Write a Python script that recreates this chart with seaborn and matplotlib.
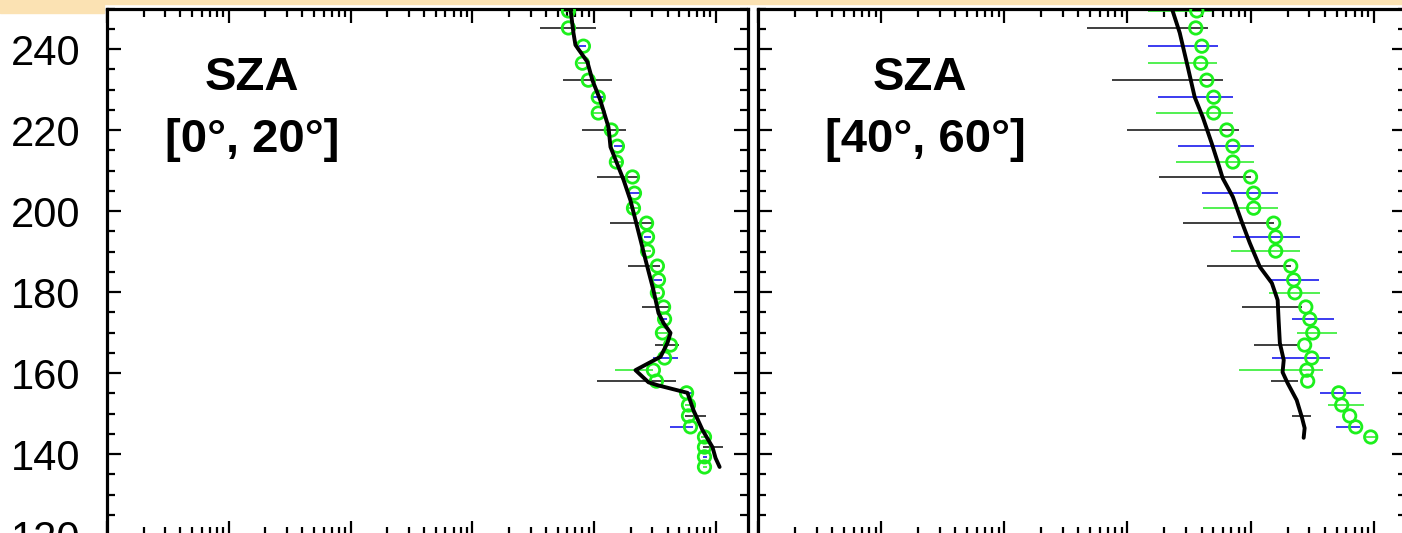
import numpy as np
import pandas as pd
import seaborn as sns
import matplotlib.pyplot as plt
from matplotlib.ticker import LogLocator, MultipleLocator, NullFormatter
from matplotlib.patches import Rectangle

# altitude grid (shared by both panels)
alt = [249.4, 245.2, 240.7, 236.5, 232.3, 228.1, 224.2, 220.0, 216.0, 212.1,
       208.4, 204.4, 200.7, 197.0, 193.6, 190.1, 186.4, 183.0, 179.8, 176.3,
       173.3, 169.9, 166.9, 163.7, 160.7, 158.0, 155.1, 152.1, 149.4, 146.7,
       144.2, 141.7, 139.3, 136.8]

# SZA [0, 20]
sza1_obs = [6.14, 6.14, 8.15, 8.0, 8.95, 10.8, 10.8, 13.8, 15.5, 15.2,
            20.6, 21.4, 21.0, 26.9, 27.4, 27.4, 33.0, 33.7, 33.0, 37.1,
            37.8, 36.3, 42.3, 37.8, 30.6, 32.4, 57.3, 59.4, 59.4, 61.7,
            80.4, 80.4, 80.4, 80.4]
sza1_lo = [5.48, 3.61, 7.56, 7.42, 5.58, 9.84, 9.84, 8.0, 14.4, 13.1,
           10.6, 19.8, 18.4, 13.6, 25.4, 24.0, 19.1, 30.6, 30.1, 24.9,
           35.0, 33.0, 31.8, 30.6, 14.9, 10.6, 56.1, 55.1, 56.1, 41.5,
           74.6, 78.9, 77.5, 77.5]
sza1_hi = [7.01, 10.4, 8.63, 8.63, 14.1, 12.1, 12.4, 18.4, 18.0, 17.4,
           23.5, 24.9, 24.0, 30.1, 29.0, 29.0, 35.0, 36.3, 35.0, 42.3,
           39.9, 39.9, 50.1, 48.3, 30.6, 47.3, 65.3, 64.1, 82.0, 64.1,
           86.7, 115, 83.6, 83.6]
sza1_line_alt = [250.1, 244.0, 241.0, 236.8, 232.3, 227.4, 220.7, 215.8, 207.7,
                 202.7, 197.8, 187.9, 180.5, 174.8, 172.3, 169.9, 167.4, 164.0,
                 160.7, 157.7, 157.0, 155.1, 150.8, 145.9, 141.7, 139.0, 136.8]
sza1_line_val = [6.37, 6.75, 7.01, 8.79, 9.66, 11.2, 13.1, 13.6, 17.4,
                 19.8, 21.8, 26.4, 30.6, 33.7, 37.1, 42.3, 39.9, 35.0,
                 21.8, 27.9, 33.0, 58.3, 65.3, 77.5, 93.5, 99.1, 107]

# SZA [40, 60]
sza2_obs = [3.66, 3.59, 4.02, 3.94, 4.41, 5.02, 5.02, 6.41, 7.18, 7.18,
            10.0, 10.6, 10.6, 15.4, 16.0, 16.0, 21.2, 22.4, 22.9, 28.1,
            30.3, 32.0, 27.5, 31.4, 28.6, 29.1, 52.0, 55.0, 63.8, 71.4, 94.6]
sza2_lo = [1.47, 0.468, 1.47, 1.47, 0.747, 1.77, 1.70, 0.989, 2.56, 2.47,
           1.80, 4.02, 4.09, 2.82, 7.18, 6.90, 4.41, 14.3, 14.1, 8.49,
           21.6, 23.7, 10.6, 14.9, 8.02, 14.6, 36.5, 42.4, 21.6, 49.2, 86.1]
sza2_hi = [4.84, 4.50, 5.42, 5.32, 5.94, 7.18, 7.18, 8.02, 10.6, 10.6,
           10.0, 16.6, 16.6, 15.4, 25.1, 25.1, 21.2, 35.8, 36.5, 26.1,
           47.3, 50.1, 24.2, 44.0, 38.6, 24.2, 78.3, 83.0, 30.8, 76.9, 104]
sza2_line_alt = [250.1, 244.0, 235.6, 228.1, 223.2, 216.7, 210.5, 208.1, 203.5,
                 197.3, 192.1, 186.2, 182.2, 178.0, 173.1, 167.4, 163.2, 160.2,
                 157.5, 153.3, 149.1, 146.4, 144.0]
sza2_line_val = [2.29, 2.66, 3.09, 3.52, 4.09, 4.84, 5.62, 5.94, 7.18,
                 8.49, 9.86, 11.9, 14.9, 16.6, 16.9, 17.3, 18.6, 18.2,
                 20.0, 23.7, 26.1, 27.5, 27.0]

titles = ["SZA\n[0°, 20°]", "SZA\n[40°, 60°]"]

sns.set_style("ticks")
plt.rcParams["font.family"] = ["Liberation Sans", "DejaVu Sans"]
plt.rcParams["text.color"] = "black"
plt.rcParams["xtick.labelcolor"] = "black"
plt.rcParams["ytick.labelcolor"] = "black"

W, H = 1402, 533
fig = plt.figure(figsize=(W / 100, H / 100), dpi=100)
fig.patch.set_facecolor("white")

beige = "#fbe2b3"
fig.patches.append(Rectangle((0, 1 - 4 / H), 1, 4 / H, transform=fig.transFigure,
                             color=beige, zorder=-5))
fig.patches.append(Rectangle((0, 1 - 13 / H), 104 / W, 13 / H, transform=fig.transFigure,
                             color=beige, zorder=-5))

top_px, bot_px = 8.5, 535
ax1 = fig.add_axes([107 / W, 1 - bot_px / H, 641 / W, (bot_px - top_px) / H])
ax2 = fig.add_axes([758 / W, 1 - bot_px / H, 648 / W, (bot_px - top_px) / H])

bar_cycle = ["#33ee33", "#1e1e1e", "#1a1aee"]
green = "#1cf01c"


def draw(ax, obs, lo, hi, line_alt, line_val, label, text_x, show_ylabels):
    n = len(obs)
    df = pd.DataFrame({"alt": alt[:n], "obs": obs, "lo": lo, "hi": hi})
    cols = [bar_cycle[i % 3] for i in range(n)]
    ax.hlines(df["alt"], df["lo"], df["hi"], colors=cols, linewidth=1.2, zorder=2)
    sns.scatterplot(data=df, x="obs", y="alt", ax=ax, marker="o", s=80,
                    facecolor="none", edgecolor=green, linewidth=2.0, zorder=3)
    ln = pd.DataFrame({"alt": line_alt, "val": line_val})
    sns.lineplot(data=ln, x="val", y="alt", ax=ax, sort=False, estimator=None,
                 color="black", linewidth=2.8, zorder=4)
    ax.set_xscale("log")
    ax.set_xlim(1e-3, 183)
    ax.set_ylim(120, 250)
    ax.set_xlabel("")
    ax.set_ylabel("")
    ax.xaxis.set_major_locator(LogLocator(base=10, numticks=20))
    ax.xaxis.set_minor_locator(LogLocator(base=10, subs=np.arange(2, 10), numticks=200))
    ax.xaxis.set_minor_formatter(NullFormatter())
    ax.yaxis.set_major_locator(MultipleLocator(20))
    ax.yaxis.set_minor_locator(MultipleLocator(5))
    ax.tick_params(which="both", direction="in", top=True, bottom=True,
                   left=True, right=True, labelbottom=False, width=1.6,
                   color="black")
    ax.tick_params(which="major", length=10)
    ax.tick_params(which="minor", length=5.5)
    ax.tick_params(axis="y", labelsize=30, pad=19, labelleft=show_ylabels)
    for s in ax.spines.values():
        s.set_linewidth(2.3)
        s.set_color("black")
    name, rng = label.split("\n")
    ax.text(text_x[0], 0.868, name, transform=ax.transAxes, ha="center",
            va="center", fontsize=34, fontweight="bold", color="black")
    ax.text(text_x[1], 0.750, rng, transform=ax.transAxes, ha="center",
            va="center", fontsize=34, fontweight="bold", color="black")


draw(ax1, sza1_obs, sza1_lo, sza1_hi, sza1_line_alt, sza1_line_val,
     titles[0], (0.226, 0.226), True)
draw(ax2, sza2_obs, sza2_lo, sza2_hi, sza2_line_alt, sza2_line_val,
     titles[1], (0.25, 0.258), False)

fig.savefig("out.png", dpi=100)
